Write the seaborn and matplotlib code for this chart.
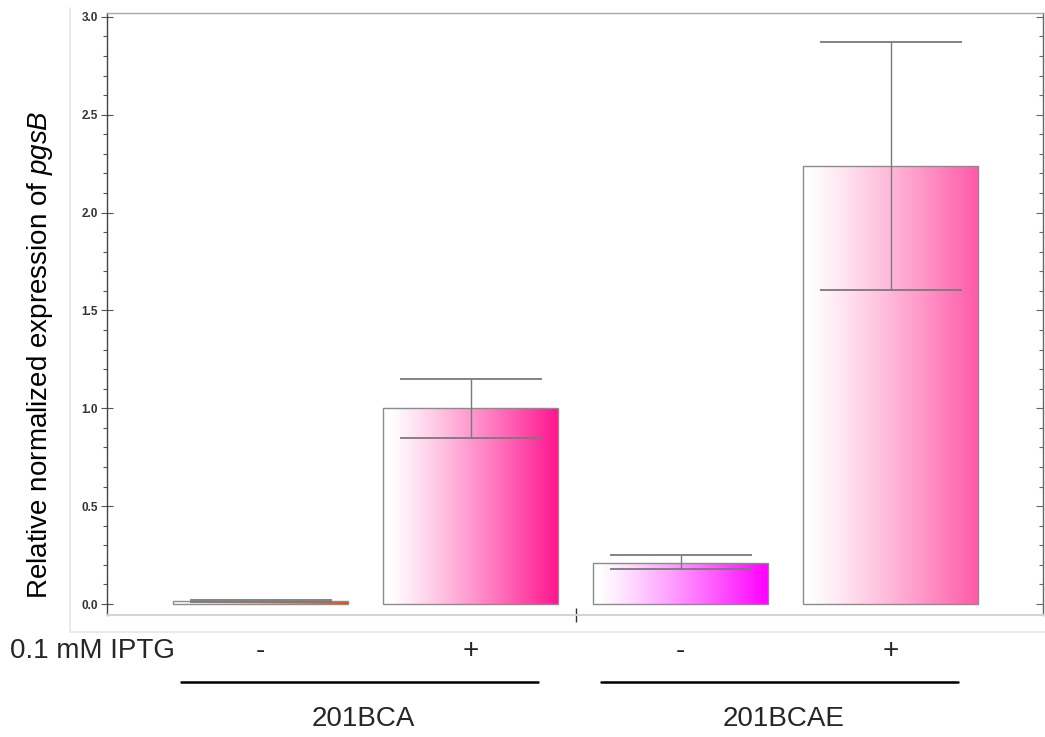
import numpy as np
import matplotlib
matplotlib.use("Agg")
import matplotlib.pyplot as plt
from matplotlib.colors import to_rgb
from matplotlib.lines import Line2D
from matplotlib.ticker import MultipleLocator, FixedLocator
import seaborn as sns

# Data
samples = ["201BCA -", "201BCA +", "201BCAE -", "201BCAE +"]
expression = [0.015, 1.0, 0.21, 2.238]
err_upper = [0.02, 1.15, 0.25, 2.872]
err_lower = [0.01, 0.846, 0.179, 1.605]
iptg_marks = ["-", "+", "-", "+"]
strains = ["201BCA", "201BCAE"]
bar_colors = ["#ff3c00", "#ff1690", "#ff00ff", "#ff5aa8"]

sns.set_theme(style="white")
plt.rcParams["font.family"] = ["Liberation Sans", "DejaVu Sans"]
plt.rcParams["mathtext.fontset"] = "custom"
plt.rcParams["mathtext.it"] = "Liberation Sans:italic"
plt.rcParams["mathtext.rm"] = "Liberation Sans"

W, H = 1045, 737
fig = plt.figure(figsize=(W / 100, H / 100), dpi=100)
ax = fig.add_axes([107 / W, 1 - 615 / H, (1043 - 107) / W, (615 - 13) / H])

df_x = list(range(len(samples)))
sns.barplot(x=samples, y=expression, ax=ax, width=0.833, color="white",
            edgecolor="#8c8c8c", linewidth=1.0, errorbar=None, zorder=2)

ymin, ymax = -0.056, 3.020
xmin, xmax = -0.731, 3.726

# Horizontal white-to-colour gradient inside each bar
t = np.linspace(0, 1, 256)
ramp = np.clip((t - 0.03) / 0.97, 0, 1) ** 1.15
for patch, col in zip(ax.patches, bar_colors):
    rgb = np.array(to_rgb(col))
    img = (1 - ramp)[:, None] * np.ones(3) + ramp[:, None] * rgb
    img = img[None, :, :]
    x0, y0 = patch.get_x(), patch.get_y()
    w, h = patch.get_width(), patch.get_height()
    im = ax.imshow(img, extent=[x0, x0 + w, y0, y0 + h], aspect="auto",
                   origin="lower", zorder=2.5, interpolation="bilinear")
    im.set_clip_path(patch)
    patch.set_facecolor("none")
    patch.set_zorder(3)

# Error bars
yerr = [np.array(expression) - np.array(err_lower),
        np.array(err_upper) - np.array(expression)]
eb = ax.errorbar(df_x, expression, yerr=yerr, fmt="none", ecolor="#7a7a7a",
                 elinewidth=1.0, capsize=51, capthick=1.3, zorder=4)
for cap in eb[1]:
    cap.set_color("#555555")

ax.set_xlim(xmin, xmax)
ax.set_ylim(ymin, ymax)
ax.set_xlabel("")
ax.set_ylabel("")

# Y axis
ax.yaxis.set_major_locator(MultipleLocator(0.5))
ax.yaxis.set_minor_locator(MultipleLocator(0.1))
ax.yaxis.set_major_formatter(matplotlib.ticker.FormatStrFormatter("%.1f"))
ax.tick_params(axis="y", which="major", direction="inout", length=9, width=0.8,
               color="#555555", labelsize=8.5, labelcolor="#333333", pad=2, left=True)
ax.tick_params(axis="y", which="minor", direction="out", length=3, width=0.8,
               color="#555555", left=True)
for lab in ax.get_yticklabels():
    lab.set_fontweight("bold")

# X axis: single separator tick between the strains
ax.xaxis.set_major_locator(FixedLocator([1.5]))
ax.set_xticklabels([""])
ax.tick_params(axis="x", which="major", direction="inout", length=10, width=1.0,
               color="#333333", bottom=True)

for side, col, lw in [("left", "#444444", 1.0), ("top", "#a8a8a8", 1.0),
                      ("right", "#666666", 1.0), ("bottom", "#d4d4d4", 1.5)]:
    ax.spines[side].set_visible(True)
    ax.spines[side].set_color(col)
    ax.spines[side].set_linewidth(lw)

# Right-hand ticks pointing inwards
rax = ax.twinx()
rax.set_ylim(ymin, ymax)
rax.yaxis.set_major_locator(MultipleLocator(0.5))
rax.yaxis.set_minor_locator(MultipleLocator(0.1))
rax.tick_params(axis="y", which="major", direction="in", length=5, width=0.8,
                color="#666666", labelright=False, right=True)
rax.tick_params(axis="y", which="minor", direction="in", length=3, width=0.8,
                color="#666666", right=True)
for s in rax.spines.values():
    s.set_visible(False)

# Faint outer panel border
fig.add_artist(Line2D([70 / W, 70 / W], [1 - 8 / H, 1 - 632 / H], color="#e6e6e6", lw=1.2))
fig.add_artist(Line2D([70 / W, 1], [1 - 632 / H, 1 - 632 / H], color="#e6e6e6", lw=1.2))

# Y label
fig.text(40 / W, 1 - 355 / H, r"Relative normalized expression of $\it{pgsB}$",
         rotation=90, ha="center", va="center", fontsize=20, color="black")

# IPTG row and strain groups, placed in data x-coordinates
trans = matplotlib.transforms.blended_transform_factory(ax.transData, fig.transFigure)
fig.text(10 / W, 1 - 651 / H, "0.1 mM IPTG", ha="left", va="center", fontsize=20)
for xi, m in zip(df_x, iptg_marks):
    fig.text(xi, 1 - 651 / H, m, transform=trans, ha="center", va="center", fontsize=20)
for k, name in enumerate(strains):
    c = 2 * k + 0.47
    fig.add_artist(Line2D([c - 0.85, c + 0.85], [1 - 682 / H] * 2,
                          transform=trans, color="black", lw=1.8))
    fig.text(c + 0.02, 1 - 719 / H, name, transform=trans, ha="center",
             va="center", fontsize=20)

fig.savefig("out.png", dpi=100)
